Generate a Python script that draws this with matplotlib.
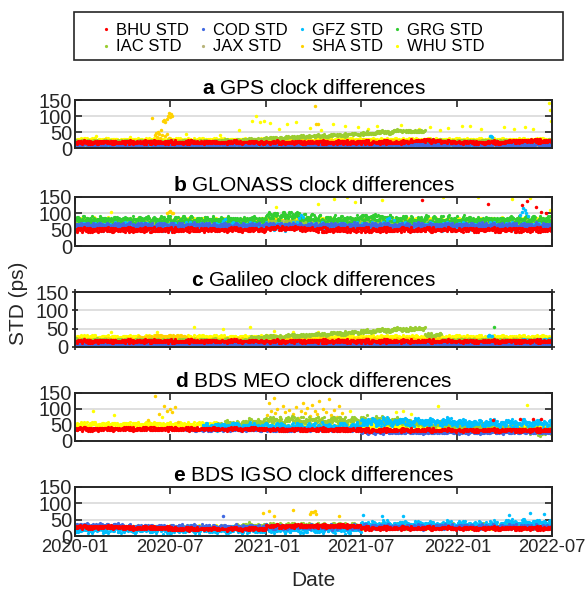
import numpy as np
import pandas as pd
import matplotlib
matplotlib.use("Agg")
import matplotlib.pyplot as plt
import matplotlib.dates as mdates
from matplotlib.lines import Line2D
from matplotlib.patches import Rectangle

plt.rcParams['font.family'] = ['Liberation Sans', 'DejaVu Sans']
plt.rcParams['mathtext.fontset'] = 'custom'
plt.rcParams['mathtext.rm'] = 'Liberation Sans'
plt.rcParams['mathtext.bf'] = 'Liberation Sans:bold'

centers = ["BHU", "COD", "GFZ", "GRG", "IAC", "JAX", "SHA", "WHU"]
colors = {"BHU": "#ff0000", "COD": "#4169e1", "GFZ": "#00bfff", "GRG": "#32cd32",
          "IAC": "#9acd32", "JAX": "#b8b47a", "SHA": "#ffd200", "WHU": "#ffff00"}

# daily solutions, 2020-01 .. 2022-06
days = pd.date_range("2020-01-01", "2022-06-30", freq="D")
month_idx = (days.year - 2020) * 12 + days.month - 1

# day-to-day scatter around the monthly level (fraction of the band half-width)
NOISE_A = np.array([0.3, -0.7, 0.9, -0.2, 0.5, -0.9, 0.1, 0.7, -0.4, -0.1, 0.8, -0.6, 0.2, -0.8,
                    0.6, 0.0, -0.3, 1.0, -0.5, 0.4, -1.0, 0.2, 0.7, -0.2, -0.7, 0.9, 0.1, -0.4,
                    0.5, -0.9, 0.3, 0.6, -0.6, -0.1, 0.8, -0.3, 0.4, -0.8, 0.0, 0.5, -0.5])
NOISE_B = np.array([-0.4, 0.8, 0.1, -0.9, 0.5, -0.2, 0.9, -0.6, 0.3, 0.0, -0.8, 0.6, -0.1, 0.4,
                    -0.5, 1.0, -0.3, 0.2, -0.7, 0.7, -1.0, 0.3, 0.5, -0.2, 0.9, -0.6, 0.1, -0.4, 0.6])

N = None

# ---- a GPS: monthly STD level (ps) and band half-width
gps_level = {
    "BHU": [18] * 21 + [23, 23, 19, 18, 18, 18, 20, 23, 22],
    "COD": [11] * 30,
    "GFZ": [12] * 30,
    "GRG": [16] * 30,
    "IAC": [20] * 9 + [23, 25, 28, 31, 33, 36, 38, 40, 43, 46, 50, 54, 52, 24] + [21] * 7,
    "JAX": [4] * 30,
    "SHA": [22] * 30,
    "WHU": [26] * 30,
}
gps_spread = {"BHU": 7, "COD": 3.5, "GFZ": 3.5, "GRG": 4, "IAC": 6, "JAX": 1.5, "SHA": 5, "WHU": 6}
gps_outliers = {
    "SHA": [("2020-05-28", 95), ("2020-06-01", 40), ("2020-06-03", 48), ("2020-06-05", 35),
            ("2020-06-08", 50), ("2020-06-10", 45), ("2020-06-12", 30), ("2020-06-14", 55),
            ("2020-06-15", 42), ("2020-06-18", 85), ("2020-06-20", 88), ("2020-06-21", 38),
            ("2020-06-22", 80), ("2020-06-24", 92), ("2020-06-25", 45), ("2020-06-26", 100),
            ("2020-06-28", 110), ("2020-06-29", 32), ("2020-06-30", 98), ("2020-07-02", 105),
            ("2020-07-04", 100), ("2021-04-03", 130), ("2021-04-06", 75), ("2021-04-09", 75)],
    "WHU": [("2020-02-10", 38), ("2020-03-01", 32), ("2020-04-15", 35), ("2020-08-01", 45),
            ("2020-10-05", 40), ("2020-11-10", 55), ("2020-12-05", 85), ("2020-12-12", 100),
            ("2020-12-20", 80), ("2020-12-28", 85), ("2021-01-08", 78), ("2021-01-25", 60),
            ("2021-02-10", 75), ("2021-02-26", 80), ("2021-03-25", 62), ("2021-04-15", 55),
            ("2021-05-08", 75), ("2021-06-01", 70), ("2021-06-25", 65), ("2021-07-15", 60),
            ("2021-08-01", 68), ("2021-09-15", 72), ("2021-10-20", 60), ("2021-11-10", 65),
            ("2021-11-28", 55), ("2021-12-15", 62), ("2022-01-10", 70), ("2022-01-25", 68),
            ("2022-02-15", 60), ("2022-04-01", 65), ("2022-04-20", 58), ("2022-05-10", 65),
            ("2022-05-25", 60), ("2022-06-25", 140), ("2022-06-27", 120), ("2022-06-29", 85)],
    "GFZ": [("2022-03-05", 36), ("2022-03-07", 38), ("2022-03-09", 35)],
}

# ---- b GLONASS
glo_level = {
    "BHU": [50] * 12 + [55, 55, 53] + [50] * 15,
    "COD": [63] * 30,
    "GFZ": [60] * 30,
    "GRG": [80] * 12 + [92, 95, 88] + [82] * 3 + [88, 85] + [80] * 10,
    "IAC": [72] * 30,
    "JAX": [70] * 30,
    "SHA": [75] * 30,
    "WHU": [78] * 30,
}
glo_spread = {"BHU": 9, "COD": 10, "GFZ": 15, "GRG": 15, "IAC": 10, "JAX": 10, "SHA": 8, "WHU": 10}
glo_outliers = {
    "BHU": [("2021-10-25", 140), ("2022-03-01", 128), ("2022-05-05", 125), ("2022-05-15", 138),
            ("2022-06-01", 120), ("2022-06-10", 105), ("2022-06-20", 100)],
    "GFZ": [("2020-10-10", 78), ("2020-10-14", 82), ("2021-03-05", 85), ("2021-03-08", 95),
            ("2021-03-11", 88), ("2021-08-20", 82), ("2021-08-24", 86), ("2021-09-01", 80),
            ("2022-05-01", 95), ("2022-05-04", 105), ("2022-05-07", 115), ("2022-05-10", 110),
            ("2022-05-13", 100), ("2022-05-16", 92)],
    "SHA": [("2020-06-25", 100), ("2020-06-28", 104), ("2020-07-01", 106), ("2020-07-04", 102),
            ("2020-07-07", 100)],
    "WHU": [("2020-03-10", 105), ("2021-01-20", 120), ("2021-04-10", 130), ("2021-05-10", 145),
            ("2021-06-05", 150), ("2021-06-20", 135), ("2021-08-10", 140), ("2021-12-05", 150),
            ("2022-02-10", 150), ("2022-04-15", 145), ("2022-05-20", 148), ("2022-06-28", 110)],
}

# ---- c Galileo
gal_level = {
    "BHU": [16] * 30,
    "COD": [8] * 30,
    "GFZ": [12] * 28 + [18, 20],
    "GRG": [14] * 30,
    "IAC": [18] * 11 + [26, 28, 30, 32, 35, 37, 40, 43, 46, 48, 50, 33] + [18] * 7,
    "JAX": [5] * 30,
    "SHA": [20] * 4 + [26, 30, 28] + [20] * 23,
    "WHU": [27] * 30,
}
gal_spread = {"BHU": 6, "COD": 2.5, "GFZ": 4, "GRG": 3, "IAC": 6, "JAX": 1.5, "SHA": 5, "WHU": 7}
gal_outliers = {
    "WHU": [("2020-03-10", 40), ("2020-06-05", 42), ("2020-08-15", 55), ("2020-10-10", 50),
            ("2020-12-01", 55), ("2021-01-15", 45), ("2021-02-20", 40), ("2021-04-10", 42)],
    "GFZ": [("2022-02-28", 30), ("2022-03-03", 32), ("2022-03-06", 31), ("2022-03-09", 30)],
    "GRG": [("2022-03-12", 55)],
}

# ---- d BDS MEO
meo_level = {
    "BHU": [38] * 12 + [36] * 6 + [34] * 12,
    "COD": [N] * 7 + [36] * 11 + [28] * 12,
    "GFZ": [N] * 8 + [45] * 10 + [60] * 6 + [56] * 6,
    "GRG": [N] * 30,
    "IAC": [N] * 9 + [52, 56, 60] + [64] * 6 + [66, 64, 60, 55, 52, 50, 46, 44, 42, 38, 34, 30],
    "JAX": [N] * 30,
    "SHA": [N] * 30,
    "WHU": [52] * 9 + [45] * 21,
}
meo_spread = {"BHU": 7, "COD": 6, "GFZ": 15, "GRG": 0, "IAC": 15, "JAX": 0, "SHA": 0, "WHU": 9}
meo_outliers = {
    "SHA": [("2020-05-20", 65), ("2020-06-01", 140), ("2020-06-10", 85), ("2020-06-20", 110),
            ("2020-06-25", 95), ("2020-07-01", 100), ("2020-07-05", 90), ("2020-07-10", 105),
            ("2020-07-15", 60), ("2021-01-03", 80), ("2021-01-06", 120), ("2021-01-09", 95),
            ("2021-01-12", 70), ("2021-01-15", 135), ("2021-01-18", 88), ("2021-01-22", 100),
            ("2021-01-26", 75), ("2021-02-01", 110), ("2021-02-05", 92), ("2021-02-09", 65),
            ("2021-02-14", 98), ("2021-02-20", 84), ("2021-02-26", 105), ("2021-03-03", 72),
            ("2021-03-08", 95), ("2021-03-12", 118), ("2021-03-16", 88), ("2021-03-20", 103),
            ("2021-03-25", 78), ("2021-03-30", 112), ("2021-04-04", 95), ("2021-04-08", 85),
            ("2021-04-12", 125), ("2021-04-16", 70), ("2021-04-20", 100), ("2021-04-25", 90),
            ("2021-05-01", 130), ("2021-05-05", 82), ("2021-05-10", 98), ("2021-05-15", 75),
            ("2021-05-20", 108), ("2021-05-26", 88)],
    "WHU": [("2020-02-05", 95), ("2020-03-15", 80), ("2020-06-15", 75), ("2021-06-10", 95),
            ("2021-09-05", 90), ("2021-09-20", 95), ("2021-10-05", 85), ("2021-11-25", 110),
            ("2022-05-15", 112)],
    "BHU": [("2022-03-10", 65), ("2022-05-01", 68), ("2022-05-25", 70), ("2022-06-10", 68)],
}

# ---- e BDS IGSO
igso_level = {
    "BHU": [28] * 3 + [25] * 3 + [22] * 6 + [31] * 6 + [24] * 12,
    "COD": [32] * 3 + [28] * 27,
    "GFZ": [20] * 18 + [35] * 9 + [40] * 3,
    "GRG": [N] * 30,
    "IAC": [N] * 10 + [32] * 8 + [30] * 12,
    "JAX": [N] * 30,
    "SHA": [N] * 30,
    "WHU": [27] * 30,
}
igso_spread = {"BHU": 7, "COD": 9, "GFZ": 14, "GRG": 0, "IAC": 10, "JAX": 0, "SHA": 0, "WHU": 7}
igso_outliers = {
    "SHA": [("2020-12-25", 70), ("2021-01-05", 78), ("2021-01-15", 60), ("2021-02-20", 80),
            ("2021-03-25", 68), ("2021-03-28", 75), ("2021-03-31", 72), ("2021-04-03", 78),
            ("2021-04-06", 66), ("2021-05-20", 60)],
    "COD": [("2020-10-10", 60)],
    "GFZ": [("2021-07-05", 65), ("2021-08-10", 60), ("2021-09-20", 62), ("2022-04-10", 65),
            ("2022-05-20", 70), ("2022-06-15", 68)],
}

panels = [
    (r"$\bf{a}$ GPS clock differences", gps_level, gps_spread, gps_outliers),
    (r"$\bf{b}$ GLONASS clock differences", glo_level, glo_spread, glo_outliers),
    (r"$\bf{c}$ Galileo clock differences", gal_level, gal_spread, gal_outliers),
    (r"$\bf{d}$ BDS MEO clock differences", meo_level, meo_spread, meo_outliers),
    (r"$\bf{e}$ BDS IGSO clock differences", igso_level, igso_spread, igso_outliers),
]


def daily_values(levels, spread, k):
    lev = np.array([np.nan if v is None else v for v in levels], dtype=float)[month_idx]
    n = np.arange(len(days))
    dev = 0.6 * NOISE_A[(n * k + 5 * k) % 41] + 0.4 * NOISE_B[(n * (k + 2) + k) % 29]
    return lev + spread * dev


W, H = 585, 596
fig = plt.figure(figsize=(W / 100, H / 100), dpi=100)

# axes boxes in pixels: left, top, right, bottom
boxes = [(75, 100, 552, 148), (75, 197, 552, 246), (75, 292, 552, 347),
         (75, 393, 552, 441), (75, 487, 552, 536)]

for i, (title, level, spread, outliers) in enumerate(panels):
    l, t, r, b = boxes[i]
    ax = fig.add_axes([l / W, 1 - b / H, (r - l) / W, (b - t) / H])
    for j, c in reversed(list(enumerate(centers))):
        vals = daily_values(level[c], spread[c], 2 * j + 3)
        ax.plot(days, vals, ls="none", marker="o", ms=2.3, mew=0, color=colors[c])
        if c in outliers:
            od = pd.to_datetime([d for d, _ in outliers[c]])
            ov = [v for _, v in outliers[c]]
            ax.plot(od, ov, ls="none", marker="o", ms=2.5, mew=0, color=colors[c])

    ax.set_xlim(pd.Timestamp("2020-01-01"), pd.Timestamp("2022-07-01"))
    ax.set_ylim(0, 150)
    ax.set_yticks([0, 50, 100, 150])
    ax.xaxis.set_major_locator(mdates.MonthLocator(bymonth=[1, 7]))
    ax.xaxis.set_major_formatter(mdates.DateFormatter("%Y-%m"))
    ax.grid(axis="y", color="#dcdcdc", lw=1.3)
    ax.set_axisbelow(True)
    for s in ax.spines.values():
        s.set_color("#262626")
        s.set_linewidth(1.4)
    direction = "inout" if i == 2 else "in"
    ax.tick_params(direction=direction, length=5, width=1.2, color="#262626",
                   labelcolor="#262626", top=True, right=True, pad=2)
    ax.tick_params(axis="y", labelsize=14.5)
    ax.tick_params(axis="x", labelsize=13.2)
    if i < 4:
        ax.tick_params(labelbottom=False)
    ax.set_title(title, fontsize=15, pad=4)

fig.text(18 / W, 1 - 303 / H, "STD (ps)", rotation=90, fontsize=15,
         ha="center", va="center", color="#262626")
fig.text(313 / W, 1 - 580 / H, "Date", fontsize=15, ha="center", va="center", color="#262626")

# legend with its own frame, entries filled row by row
fig.patches.append(Rectangle((74 / W, 1 - 60 / H), 489 / W, 48 / H, transform=fig.transFigure,
                             fill=False, edgecolor="#262626", lw=1.2))
order = [0, 4, 1, 5, 2, 6, 3, 7]
handles = [Line2D([], [], ls="none", marker="o", ms=2.3, mew=0, color=colors[centers[k]])
           for k in order]
labels = [centers[k] + " STD" for k in order]
fig.legend(handles, labels, ncol=4, loc="upper left",
           bbox_to_anchor=(89 / W, 1 - 11 / H), frameon=False, fontsize=12,
           handlelength=0.6, handletextpad=0.3, columnspacing=0.55, labelspacing=0.1,
           borderpad=0.2)

fig.savefig("out.png", dpi=100)
